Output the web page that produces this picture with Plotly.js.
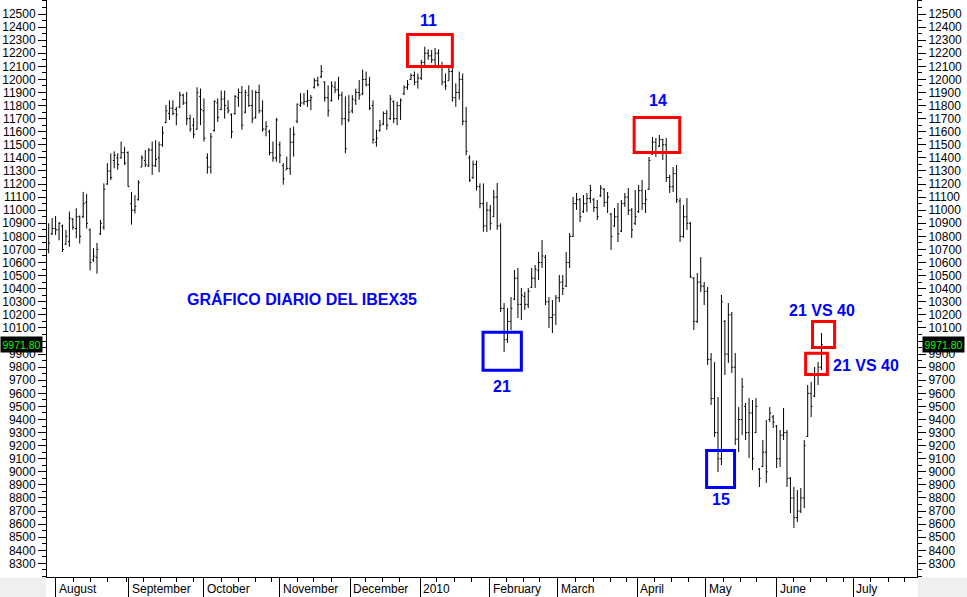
<!DOCTYPE html>
<html>
<head>
<meta charset="utf-8">
<script src="https://cdn.plot.ly/plotly-3.0.1.min.js"></script>
<style>html,body{margin:0;padding:0;background:#fff;}#chart{width:967px;height:597px;}</style>
</head>
<body>
<div id="chart"></div>
<script>
// Daily IBEX35 bars (trading-day index 0 = 30 Jul 2009 ... 224 = 18 Jun 2010)
const highP = [
10900,10940,10955,10910,10890,10850,10990,10940,11015,10960,
11140,11125,10860,10710,10750,10925,11205,11360,11435,11450,
11435,11525,11485,11450,11140,11115,11230,11420,11460,11475,
11525,11535,11525,11640,11805,11840,11840,11790,11905,11890,
11905,11730,11705,11940,11930,11855,11435,11590,11840,11855,
11915,11915,11840,11740,11880,11930,11950,11920,11955,11920,
11915,11960,11840,11680,11615,11525,11705,11525,11360,11410,
11630,11640,11815,11895,11895,11920,11880,12010,12020,12110,
11985,11955,11985,11985,12020,11905,11870,11880,11880,11930,
11995,12075,12060,12020,11840,11615,11690,11755,11765,11880,
11840,11830,11855,11955,11995,12045,12060,12045,12150,12250,
12230,12225,12240,12230,12135,12045,12095,12095,11970,12060,
12045,11790,11420,11380,11380,11205,11205,11063,11040,11155,
11208,10900,10290,10252,10336,10543,10558,10405,10375,10405,
10558,10581,10680,10772,10658,10336,10313,10352,10505,10505,
10680,10826,11101,11132,11093,11116,11132,11193,11093,11078,
11193,11170,11139,10979,11017,11055,11078,11132,11170,11017,
11155,11193,11231,11155,11407,11560,11552,11575,11545,11552,
11270,11330,11346,11093,11040,11093,10910,10490,10520,10642,
10451,10413,9908,9839,9572,10352,10161,10290,10222,9908,
9495,9717,9526,9564,9549,9564,9029,9243,9396,9495,
9434,9358,9320,9488,9320,8960,8884,8861,8876,9243,
9664,9687,9801,9839,10061];
const lowP = [
10670,10810,10810,10770,10680,10735,10720,10850,10785,10745,
10940,10860,10540,10605,10515,10810,10850,11195,11230,11320,
11310,11395,11345,11180,10890,10975,11075,11330,11330,11330,
11270,11330,11290,11485,11665,11690,11725,11650,11780,11805,
11650,11600,11550,11615,11650,11525,11280,11280,11600,11675,
11765,11700,11740,11550,11730,11790,11615,11740,11790,11665,
11700,11740,11600,11565,11420,11370,11370,11360,11195,11310,
11270,11410,11665,11790,11805,11790,11765,11930,11945,12010,
11830,11715,11830,11895,11845,11650,11435,11675,11740,11805,
11845,11880,11945,11765,11510,11485,11600,11650,11615,11690,
11665,11650,11690,11880,11920,11995,11955,11930,11995,12095,
12150,12125,12095,12085,11955,11920,11990,11830,11790,11845,
11650,11420,11215,11240,11150,11015,10835,10833,10849,10948,
10850,10222,9916,9985,10084,10313,10176,10160,10237,10252,
10405,10405,10466,10558,10275,10100,10061,10122,10298,10352,
10413,10558,10795,11002,10910,10979,10987,11055,10987,10925,
11101,11025,10979,10696,10872,10757,10833,11025,10963,10788,
10887,10979,11002,10979,11155,11422,11407,11483,11384,11216,
11132,11139,11055,10757,10788,10849,10482,10084,10138,10375,
10275,9817,9511,9266,8999,9052,9740,9832,9756,9205,
9151,9281,9243,9106,9014,9297,8884,9037,8915,9381,
9335,9029,9037,9243,8884,8685,8571,8616,8685,8723,
9266,9419,9572,9664,9778];
const openP = [
10700,10820,10860,10850,10880,10740,10760,10930,10860,10950,
10950,11060,10850,10620,10640,10820,10870,11200,11300,11380,
11400,11400,11440,11440,11050,11000,11080,11330,11380,11340,
11460,11340,11400,11500,11670,11740,11780,11770,11790,11880,
11820,11700,11650,11620,11870,11760,11400,11330,11610,11820,
11770,11850,11780,11730,11740,11860,11900,11750,11880,11800,
11710,11900,11760,11620,11600,11440,11400,11500,11340,11310,
11320,11520,11680,11800,11820,11830,11840,11940,11990,12020,
11980,11860,11840,11940,11920,11880,11700,11690,11760,11840,
11900,11890,12000,11960,11800,11520,11610,11660,11740,11700,
11830,11700,11800,11890,11940,12000,12030,11980,12010,12130,
12200,12180,12150,12200,12100,11980,11990,12060,11860,11900,
12000,11680,11400,11250,11350,11180,11050,10880,11000,10950,
11100,10880,10250,10010,10150,10320,10480,10280,10340,10280,
10410,10480,10540,10600,10640,10300,10180,10200,10330,10450,
10420,10600,10800,11050,11080,10990,11050,11090,11080,11020,
11110,11160,11060,10970,10880,10950,10840,11050,11100,11000,
10900,10990,11150,11050,11160,11430,11520,11490,11540,11500,
11250,11180,11280,11070,10800,10950,10900,10480,10150,10450,
10420,10380,9860,9560,9300,9100,10150,9900,10200,9800,
9250,9400,9500,9300,9450,9300,9020,9040,9150,9400,
9420,9350,9100,9280,9300,8950,8800,8650,8700,8800,
9270,9600,9580,9750,9800];
const closeP = [
10750,10860,10850,10900,10700,10800,10940,10870,10950,10800,
11050,10900,10600,10650,10700,10900,11160,11300,11250,11420,
11350,11440,11360,11180,11000,11030,11210,11400,11350,11460,
11340,11390,11500,11590,11760,11780,11740,11730,11880,11820,
11700,11620,11580,11900,11770,11550,11330,11560,11830,11710,
11850,11800,11760,11600,11870,11900,11650,11900,11800,11700,
11900,11760,11620,11640,11440,11400,11690,11420,11240,11320,
11520,11580,11810,11820,11830,11840,11860,11990,11960,12060,
11860,11760,11950,11920,11880,11700,11470,11750,11850,11900,
11880,12000,11960,11780,11540,11550,11650,11740,11650,11850,
11700,11800,11840,11940,11960,12030,11980,12010,12130,12200,
12180,12150,12200,12100,11980,11950,12060,11860,11900,12000,
11680,11450,11230,11350,11180,11050,10880,11000,10900,11100,
10880,10250,10010,10150,10250,10480,10280,10350,10280,10380,
10480,10550,10600,10650,10300,10180,10200,10330,10450,10400,
10600,10800,11050,11080,10950,11050,11090,11150,11020,10950,
11170,11060,11100,10800,10950,10820,11050,11100,11000,10850,
10950,11150,11050,11080,11380,11520,11440,11540,11500,11250,
11180,11280,11080,10800,10950,10900,10490,10150,10450,10420,
10380,9860,9560,9300,9100,10300,9900,10200,9800,9250,
9400,9650,9300,9450,9100,9500,8950,9150,9000,9450,
9380,9100,9280,9300,8950,8800,8650,8700,8800,9200,
9600,9500,9750,9800,9971.8];

// Month separators (trading-day index) and their labels
const monthTicks = [2.1, 23.2, 45, 67, 87.4, 107.7, 127.8, 147.5, 170.6, 190.4, 211, 233.2];
const monthLabels = ['August','September','October','November','December','2010','February','March','April','May','June','July'];
// Weekly (Monday) minor ticks
const weekTicks = [7.1,12.1,17.1,22.5,27.4,32.3,37.1,41.9,50,55,60,64.5,72,76.7,82,91.9,96.7,101.6,
  112.5,117.5,122.6,132.8,137.6,142.4,152.8,157.9,162.7,167.5,175.7,180.6,185.4,195.5,200.4,205.2,
  215.8,220.7,225.5,230.3,238.1,243.4,248.2];
// Price axis labels 8300..12500 (10000 sits under the last-price tag)
const priceTicks = [];
for (let v = 8300; v <= 12500; v += 100) priceTicks.push(v);
const priceLabels = priceTicks.map(v => v === 10000 ? '' : String(v));
const lastPrice = 9971.80;

// Annotation texts and positions (index, price)
const notes = [
  {text:'GRÁFICO DIARIO DEL IBEX35', x:73.3, y:10325},
  {text:'11', x:110.1, y:12450},
  {text:'14', x:176.5, y:11835},
  {text:'21', x:131.5, y:9652},
  {text:'15', x:195.0, y:8785},
  {text:'21 VS 40', x:224.1, y:10233},
  {text:'21 VS 40', x:236.8, y:9813}
];
const boxes = [
  {c:'#ff0000', x0:104.0, x1:117.0, y0:12099, y1:12343},
  {c:'#ff0000', x0:169.7, x1:182.9, y0:11441, y1:11709},
  {c:'#0000ff', x0:125.9, x1:137.0, y0:9777, y1:10067},
  {c:'#0000ff', x0:190.7, x1:198.8, y0:8880, y1:9163},
  {c:'#ff0000', x0:221.4, x1:227.8, y0:9950, y1:10149},
  {c:'#ff0000', x0:219.4, x1:225.7, y0:9744, y1:9907}
];

const dayIdx = highP.map((_, i) => i);
const FONT = 'Liberation Sans, Arial, Helvetica, sans-serif';

const traces = [
  {type:'ohlc', x:dayIdx, open:openP, high:highP, low:lowP, close:closeP,
   increasing:{line:{color:'#000', width:1}}, decreasing:{line:{color:'#000', width:1}},
   tickwidth:0.4, hoverinfo:'skip', showlegend:false},
  {type:'scatter', x:[dayIdx[0]], y:[closeP[0]], yaxis:'y2', mode:'markers',
   marker:{opacity:0}, hoverinfo:'skip', showlegend:false}
];

const yRange = [8196, 12607];
const yCommon = {
  range:yRange, showgrid:false, zeroline:false, showline:true, linecolor:'#000', linewidth:1,
  ticks:'outside', ticklen:8, tickcolor:'#000', tickwidth:1,
  tickmode:'array', tickvals:priceTicks, ticktext:priceLabels,
  tickfont:{family:FONT, size:12, color:'#000'},
  minor:{tickmode:'linear', tick0:0, dtick:50, ticks:'outside', ticklen:4, tickcolor:'#000'},
  fixedrange:true
};

const annotations = [];
notes.forEach(n => annotations.push({
  x:n.x, y:n.y, xref:'x', yref:'y', text:n.text, showarrow:false,
  xanchor:'center', yanchor:'middle',
  font:{family:FONT, size:16, color:'#0000ff', weight:'bold'}
}));
monthTicks.forEach((t, k) => annotations.push({
  x:t + 0.3, y:-0.0208, xref:'x', yref:'paper', text:monthLabels[k], showarrow:false,
  xanchor:'left', yanchor:'middle', font:{family:FONT, size:12, color:'#000'}
}));
annotations.push({x:-0.054, xref:'paper', xanchor:'left', y:lastPrice, yref:'y', yanchor:'middle',
  text:lastPrice.toFixed(2), showarrow:false, bgcolor:'#000', borderpad:1.5,
  font:{family:FONT, size:10.5, color:'#00ff00'}});
annotations.push({x:1.0052, xref:'paper', xanchor:'left', y:lastPrice, yref:'y', yanchor:'middle',
  text:lastPrice.toFixed(2), showarrow:false, bgcolor:'#000', borderpad:1.5,
  font:{family:FONT, size:10.5, color:'#00ff00'}});

const shapes = boxes.map(b => ({type:'rect', xref:'x', yref:'y', x0:b.x0, x1:b.x1, y0:b.y0, y1:b.y1,
  line:{color:b.c, width:3}, fillcolor:'rgba(0,0,0,0)'}));
shapes.push({type:'rect', xref:'paper', yref:'paper', x0:-0.054, x1:-0.001, y0:-0.0347, y1:-0.001,
  line:{width:0}, fillcolor:'#efefef', layer:'below'});
shapes.push({type:'rect', xref:'paper', yref:'paper', x0:1.001, x1:1.06, y0:-0.0347, y1:-0.001,
  line:{width:0}, fillcolor:'#efefef', layer:'below'});

const layout = {
  width:967, height:597,
  margin:{l:47, r:50, t:0, b:20, pad:0},
  paper_bgcolor:'#ffffff', plot_bgcolor:'#ffffff',
  showlegend:false,
  font:{family:FONT, size:12, color:'#000'},
  xaxis:{
    range:[-0.49, 251.68], showgrid:false, zeroline:false, showline:true, linecolor:'#000', linewidth:1,
    ticks:'outside', ticklen:20, tickcolor:'#000', tickwidth:1,
    tickmode:'array', tickvals:monthTicks, showticklabels:false,
    minor:{tickmode:'array', tickvals:weekTicks, ticks:'outside', ticklen:4, tickcolor:'#000'},
    rangeslider:{visible:false}, fixedrange:true
  },
  yaxis:Object.assign({}, yCommon, {side:'left'}),
  yaxis2:Object.assign({}, yCommon, {side:'right', overlaying:'y'}),
  annotations:annotations,
  shapes:shapes
};

Plotly.newPlot('chart', traces, layout, {staticPlot:true, displayModeBar:false});
</script>
</body>
</html>
